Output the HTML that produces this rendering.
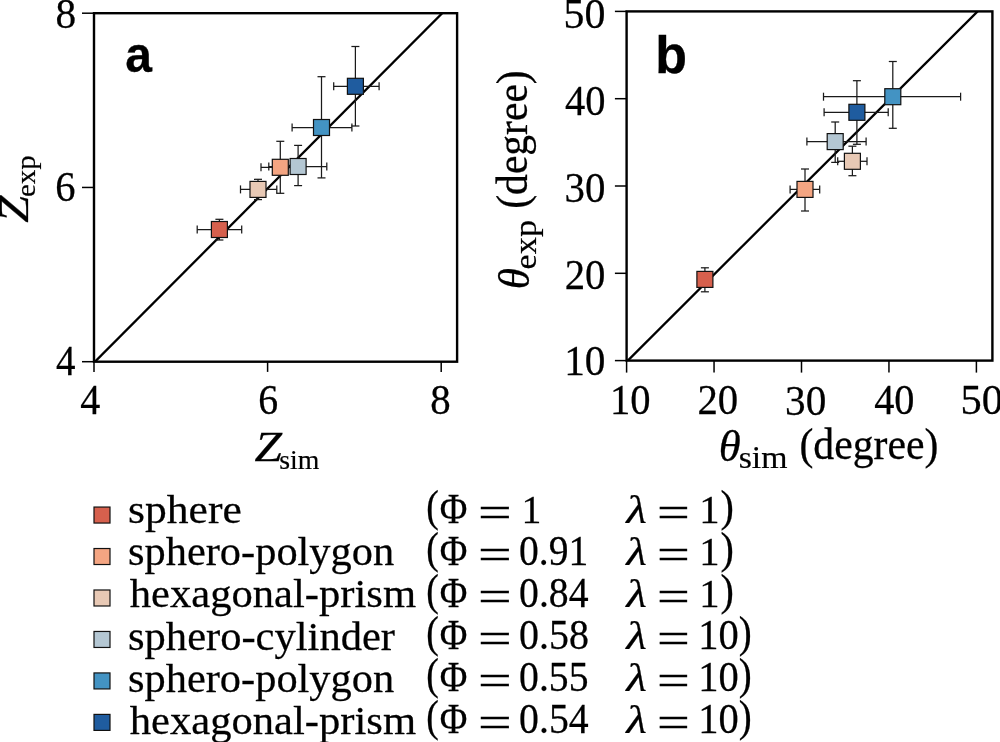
<!DOCTYPE html>
<html><head><meta charset="utf-8"><style>
html,body{margin:0;padding:0;background:#fff;width:1000px;height:742px;overflow:hidden}
svg{display:block;will-change:transform}
text{font-family:"Liberation Serif",serif;font-size:40px;font-kerning:none;fill:#000;stroke:#000;stroke-width:0.25px}
text.t{}
</style></head><body>
<svg width="1000" height="742" viewBox="0 0 1000 742">
<rect width="1000" height="742" fill="#fff"/>
<defs><clipPath id="ca"><rect x="94.00" y="13.20" width="363.10" height="348.50"/></clipPath><clipPath id="cb"><rect x="626.60" y="11.40" width="365.80" height="349.20"/></clipPath></defs>
<line x1="91.00" y1="365.70" x2="444.20" y2="11.20" stroke="#000" stroke-width="2.30" clip-path="url(#ca)"/>
<line x1="623.60" y1="364.80" x2="979.40" y2="9.60" stroke="#000" stroke-width="2.30" clip-path="url(#cb)"/>
<g stroke="#1a1a1a" stroke-width="1.25"><line x1="197.20" y1="229.50" x2="241.70" y2="229.50"/><line x1="197.20" y1="225.50" x2="197.20" y2="233.50"/><line x1="241.70" y1="225.50" x2="241.70" y2="233.50"/><line x1="219.40" y1="219.30" x2="219.40" y2="240.00"/><line x1="215.40" y1="219.30" x2="223.40" y2="219.30"/><line x1="215.40" y1="240.00" x2="223.40" y2="240.00"/><line x1="261.00" y1="167.30" x2="299.60" y2="167.30"/><line x1="261.00" y1="163.30" x2="261.00" y2="171.30"/><line x1="299.60" y1="163.30" x2="299.60" y2="171.30"/><line x1="280.30" y1="141.30" x2="280.30" y2="193.30"/><line x1="276.30" y1="141.30" x2="284.30" y2="141.30"/><line x1="276.30" y1="193.30" x2="284.30" y2="193.30"/><line x1="240.50" y1="189.40" x2="276.80" y2="189.40"/><line x1="240.50" y1="185.40" x2="240.50" y2="193.40"/><line x1="276.80" y1="185.40" x2="276.80" y2="193.40"/><line x1="258.00" y1="179.30" x2="258.00" y2="199.60"/><line x1="254.00" y1="179.30" x2="262.00" y2="179.30"/><line x1="254.00" y1="199.60" x2="262.00" y2="199.60"/><line x1="268.80" y1="166.50" x2="326.80" y2="166.50"/><line x1="268.80" y1="162.50" x2="268.80" y2="170.50"/><line x1="326.80" y1="162.50" x2="326.80" y2="170.50"/><line x1="298.10" y1="145.40" x2="298.10" y2="185.60"/><line x1="294.10" y1="145.40" x2="302.10" y2="145.40"/><line x1="294.10" y1="185.60" x2="302.10" y2="185.60"/><line x1="292.10" y1="127.50" x2="351.90" y2="127.50"/><line x1="292.10" y1="123.50" x2="292.10" y2="131.50"/><line x1="351.90" y1="123.50" x2="351.90" y2="131.50"/><line x1="321.50" y1="76.70" x2="321.50" y2="177.90"/><line x1="317.50" y1="76.70" x2="325.50" y2="76.70"/><line x1="317.50" y1="177.90" x2="325.50" y2="177.90"/><line x1="333.70" y1="86.30" x2="379.10" y2="86.30"/><line x1="333.70" y1="82.30" x2="333.70" y2="90.30"/><line x1="379.10" y1="82.30" x2="379.10" y2="90.30"/><line x1="355.40" y1="46.50" x2="355.40" y2="126.00"/><line x1="351.40" y1="46.50" x2="359.40" y2="46.50"/><line x1="351.40" y1="126.00" x2="359.40" y2="126.00"/><line x1="704.90" y1="267.80" x2="704.90" y2="291.80"/><line x1="700.90" y1="267.80" x2="708.90" y2="267.80"/><line x1="700.90" y1="291.80" x2="708.90" y2="291.80"/><line x1="790.10" y1="189.40" x2="819.70" y2="189.40"/><line x1="790.10" y1="185.40" x2="790.10" y2="193.40"/><line x1="819.70" y1="185.40" x2="819.70" y2="193.40"/><line x1="805.00" y1="169.00" x2="805.00" y2="211.00"/><line x1="801.00" y1="169.00" x2="809.00" y2="169.00"/><line x1="801.00" y1="211.00" x2="809.00" y2="211.00"/><line x1="837.70" y1="161.30" x2="867.00" y2="161.30"/><line x1="837.70" y1="157.30" x2="837.70" y2="165.30"/><line x1="867.00" y1="157.30" x2="867.00" y2="165.30"/><line x1="852.40" y1="146.20" x2="852.40" y2="175.70"/><line x1="848.40" y1="146.20" x2="856.40" y2="146.20"/><line x1="848.40" y1="175.70" x2="856.40" y2="175.70"/><line x1="806.90" y1="141.60" x2="866.10" y2="141.60"/><line x1="806.90" y1="137.60" x2="806.90" y2="145.60"/><line x1="866.10" y1="137.60" x2="866.10" y2="145.60"/><line x1="835.20" y1="122.00" x2="835.20" y2="162.40"/><line x1="831.20" y1="122.00" x2="839.20" y2="122.00"/><line x1="831.20" y1="162.40" x2="839.20" y2="162.40"/><line x1="823.50" y1="96.70" x2="960.60" y2="96.70"/><line x1="823.50" y1="92.70" x2="823.50" y2="100.70"/><line x1="960.60" y1="92.70" x2="960.60" y2="100.70"/><line x1="892.80" y1="61.50" x2="892.80" y2="128.30"/><line x1="888.80" y1="61.50" x2="896.80" y2="61.50"/><line x1="888.80" y1="128.30" x2="896.80" y2="128.30"/><line x1="824.10" y1="112.30" x2="888.20" y2="112.30"/><line x1="824.10" y1="108.30" x2="824.10" y2="116.30"/><line x1="888.20" y1="108.30" x2="888.20" y2="116.30"/><line x1="856.90" y1="80.70" x2="856.90" y2="144.30"/><line x1="852.90" y1="80.70" x2="860.90" y2="80.70"/><line x1="852.90" y1="144.30" x2="860.90" y2="144.30"/></g>
<g stroke="#111" stroke-width="1.20"><rect x="211.40" y="221.50" width="16.00" height="16.00" fill="#d6604d"/><rect x="272.30" y="159.30" width="16.00" height="16.00" fill="#f4a582"/><rect x="250.00" y="181.40" width="16.00" height="16.00" fill="#e8c9b5"/><rect x="290.10" y="158.50" width="16.00" height="16.00" fill="#b4c7d3"/><rect x="313.50" y="119.50" width="16.00" height="16.00" fill="#4393c3"/><rect x="347.40" y="78.30" width="16.00" height="16.00" fill="#1f5c9f"/><rect x="696.90" y="271.40" width="16.00" height="16.00" fill="#d6604d"/><rect x="797.00" y="181.40" width="16.00" height="16.00" fill="#f4a582"/><rect x="844.40" y="153.30" width="16.00" height="16.00" fill="#e8c9b5"/><rect x="827.20" y="133.60" width="16.00" height="16.00" fill="#b4c7d3"/><rect x="884.80" y="88.70" width="16.00" height="16.00" fill="#4393c3"/><rect x="848.90" y="104.30" width="16.00" height="16.00" fill="#1f5c9f"/><rect x="94.00" y="507.05" width="16.00" height="16.00" fill="#d6604d"/><rect x="94.00" y="548.52" width="16.00" height="16.00" fill="#f4a582"/><rect x="94.00" y="589.99" width="16.00" height="16.00" fill="#e8c9b5"/><rect x="94.00" y="631.46" width="16.00" height="16.00" fill="#b4c7d3"/><rect x="94.00" y="672.93" width="16.00" height="16.00" fill="#4393c3"/><rect x="94.00" y="714.40" width="16.00" height="16.00" fill="#1f5c9f"/></g>
<rect x="94.00" y="13.20" width="363.10" height="348.50" fill="none" stroke="#000" stroke-width="2.40"/>
<rect x="626.60" y="11.40" width="365.80" height="349.20" fill="none" stroke="#000" stroke-width="2.40"/>
<g stroke="#000" stroke-width="1.50"><line x1="94.00" y1="361.70" x2="94.00" y2="371.90"/><line x1="82.00" y1="361.70" x2="94.00" y2="361.70"/><line x1="267.60" y1="361.70" x2="267.60" y2="371.90"/><line x1="82.00" y1="187.45" x2="94.00" y2="187.45"/><line x1="441.20" y1="361.70" x2="441.20" y2="371.90"/><line x1="82.00" y1="13.20" x2="94.00" y2="13.20"/><line x1="626.60" y1="360.60" x2="626.60" y2="372.60"/><line x1="614.90" y1="360.60" x2="626.60" y2="360.60"/><line x1="714.05" y1="360.60" x2="714.05" y2="372.60"/><line x1="614.90" y1="273.30" x2="626.60" y2="273.30"/><line x1="801.50" y1="360.60" x2="801.50" y2="372.60"/><line x1="614.90" y1="186.00" x2="626.60" y2="186.00"/><line x1="888.95" y1="360.60" x2="888.95" y2="372.60"/><line x1="614.90" y1="98.70" x2="626.60" y2="98.70"/><line x1="976.40" y1="360.60" x2="976.40" y2="372.60"/><line x1="614.90" y1="11.40" x2="626.60" y2="11.40"/></g>
<g>
<text transform="matrix(1.0901 0 0 1.0161 128.01 523.00)" class="t">sphere</text>
<text transform="matrix(0.9442 0 0 1.1235 426.29 521.23)">(</text>
<text transform="matrix(0.9435 0 0 1.0652 439.76 522.90)">Φ</text>
<text transform="matrix(1.4962 0 0 1.0300 478.12 526.23)">=</text>
<text transform="matrix(0.9942 0 0 1.0263 521.60 522.90)">1</text>
<text transform="matrix(1.1904 0 0 0.9977 626.26 522.90)" style="font-style:italic">λ</text>
<text transform="matrix(1.4559 0 0 1.0300 657.00 526.23)">=</text>
<text transform="matrix(1.0155 0 0 1.0263 699.23 522.90)">1</text>
<text transform="matrix(1.0026 0 0 1.1235 720.51 521.23)">)</text>
<text transform="matrix(1.0602 0 0 1.0161 128.06 565.19)" class="t">sphero-polygon</text>
<text transform="matrix(0.9442 0 0 1.1235 426.29 563.21)">(</text>
<text transform="matrix(0.9435 0 0 1.0652 439.76 564.88)">Φ</text>
<text transform="matrix(1.4962 0 0 1.0300 478.12 568.21)">=</text>
<text transform="matrix(0.9898 0 0 1.0488 519.09 564.88)">0.91</text>
<text transform="matrix(1.1904 0 0 0.9977 626.26 564.88)" style="font-style:italic">λ</text>
<text transform="matrix(1.4559 0 0 1.0300 657.00 568.21)">=</text>
<text transform="matrix(1.0155 0 0 1.0263 699.23 564.88)">1</text>
<text transform="matrix(1.0026 0 0 1.1235 720.51 563.21)">)</text>
<text transform="matrix(1.0657 0 0 1.0161 129.78 607.38)" class="t">hexagonal-prism</text>
<text transform="matrix(0.9442 0 0 1.1235 426.29 605.19)">(</text>
<text transform="matrix(0.9435 0 0 1.0652 439.76 606.86)">Φ</text>
<text transform="matrix(1.4962 0 0 1.0300 478.12 610.19)">=</text>
<text transform="matrix(0.9919 0 0 1.0488 519.09 606.86)">0.84</text>
<text transform="matrix(1.1904 0 0 0.9977 626.26 606.86)" style="font-style:italic">λ</text>
<text transform="matrix(1.4559 0 0 1.0300 657.00 610.19)">=</text>
<text transform="matrix(1.0155 0 0 1.0263 699.23 606.86)">1</text>
<text transform="matrix(1.0026 0 0 1.1235 720.51 605.19)">)</text>
<text transform="matrix(1.0634 0 0 1.0161 128.06 649.57)" class="t">sphero-cylinder</text>
<text transform="matrix(0.9442 0 0 1.1235 426.29 647.17)">(</text>
<text transform="matrix(0.9435 0 0 1.0652 439.76 648.84)">Φ</text>
<text transform="matrix(1.4962 0 0 1.0300 478.12 652.17)">=</text>
<text transform="matrix(0.9977 0 0 1.0488 519.08 648.84)">0.58</text>
<text transform="matrix(1.1904 0 0 0.9977 626.26 648.84)" style="font-style:italic">λ</text>
<text transform="matrix(1.4559 0 0 1.0300 657.00 652.17)">=</text>
<text transform="matrix(1.0126 0 0 1.0488 698.24 648.84)">10</text>
<text transform="matrix(0.9734 0 0 1.1235 738.65 647.17)">)</text>
<text transform="matrix(1.0602 0 0 1.0161 128.06 691.76)" class="t">sphero-polygon</text>
<text transform="matrix(0.9442 0 0 1.1235 426.29 689.15)">(</text>
<text transform="matrix(0.9435 0 0 1.0652 439.76 690.82)">Φ</text>
<text transform="matrix(1.4962 0 0 1.0300 478.12 694.15)">=</text>
<text transform="matrix(0.9923 0 0 1.0488 519.09 690.82)">0.55</text>
<text transform="matrix(1.1904 0 0 0.9977 626.26 690.82)" style="font-style:italic">λ</text>
<text transform="matrix(1.4559 0 0 1.0300 657.00 694.15)">=</text>
<text transform="matrix(1.0126 0 0 1.0488 698.24 690.82)">10</text>
<text transform="matrix(0.9734 0 0 1.1235 738.65 689.15)">)</text>
<text transform="matrix(1.0657 0 0 1.0161 129.78 733.95)" class="t">hexagonal-prism</text>
<text transform="matrix(0.9442 0 0 1.1235 426.29 731.13)">(</text>
<text transform="matrix(0.9435 0 0 1.0652 439.76 732.80)">Φ</text>
<text transform="matrix(1.4962 0 0 1.0300 478.12 736.13)">=</text>
<text transform="matrix(0.9933 0 0 1.0488 519.09 732.80)">0.54</text>
<text transform="matrix(1.1904 0 0 0.9977 626.26 732.80)" style="font-style:italic">λ</text>
<text transform="matrix(1.4559 0 0 1.0300 657.00 736.13)">=</text>
<text transform="matrix(1.0126 0 0 1.0488 698.24 732.80)">10</text>
<text transform="matrix(0.9734 0 0 1.1235 738.65 731.13)">)</text>
<text transform="matrix(1.0323 0 0 1.0559 55.43 27.59)">8</text>
<text transform="matrix(1.0123 0 0 1.0456 55.26 201.29)">6</text>
<text transform="matrix(0.9734 0 0 1.0597 56.04 374.90)">4</text>
<text transform="matrix(1.0003 0 0 1.0597 80.32 414.00)">4</text>
<text transform="matrix(0.9947 0 0 1.0493 258.29 414.49)">6</text>
<text transform="matrix(1.0205 0 0 1.0373 430.25 414.19)">8</text>
<text transform="matrix(1.2359 0 0 1.0652 254.40 460.60)" style="font-style:italic">Z</text>
<text transform="matrix(0.6952 0 0 0.6872 279.26 468.80)" class="t">sim</text>
<g transform="translate(0 222.10) rotate(-90)"><text transform="matrix(1.2132 0 0 1.0652 -0.59 28.30)" style="font-style:italic">Z</text></g>
<g transform="translate(0 195.90) rotate(-90)"><text transform="matrix(0.7249 0 0 0.6688 -1.13 35.30)" class="t">exp</text></g>
<text transform="matrix(1.2003 0 0 1.2640 125.19 72.21)" style="font-family:'Liberation Sans',sans-serif;font-weight:bold">a</text>
<text transform="matrix(1.2998 0 0 1.2919 655.37 72.50)" style="font-family:'Liberation Sans',sans-serif;font-weight:bold">b</text>
<text transform="matrix(1.0483 0 0 1.0447 563.56 27.59)">50</text>
<text transform="matrix(1.0134 0 0 1.0522 564.91 114.89)">40</text>
<text transform="matrix(1.0229 0 0 1.0373 564.54 201.79)">30</text>
<text transform="matrix(1.0186 0 0 1.0392 564.71 288.64)">20</text>
<text transform="matrix(1.0326 0 0 1.0373 564.17 375.49)">10</text>
<text transform="matrix(1.0154 0 0 1.0373 609.93 414.49)">10</text>
<text transform="matrix(1.0186 0 0 1.0373 697.41 414.49)">20</text>
<text transform="matrix(1.0311 0 0 1.0373 785.03 414.59)">30</text>
<text transform="matrix(1.0081 0 0 1.0299 874.21 414.10)">40</text>
<text transform="matrix(1.0622 0 0 1.0392 960.53 414.34)">50</text>
<text transform="matrix(1.1189 0 0 1.1160 718.81 461.46)" style="font-style:italic" class="t">θ</text>
<text transform="matrix(0.8446 0 0 0.8156 738.71 468.35)" class="t">sim</text>
<text transform="matrix(1.0431 0 0 1.1240 799.47 459.20)" class="t">(degree)</text>
<g transform="translate(0 287.10) rotate(-90)"><text transform="matrix(1.0801 0 0 1.1037 -2.11 529.27)" style="font-style:italic" class="t">θ</text></g>
<g transform="translate(0 268.10) rotate(-90)"><text transform="matrix(0.8567 0 0 0.7894 -1.34 535.98)" class="t">exp</text></g>
<g transform="translate(0 206.90) rotate(-90)"><text transform="matrix(1.0393 0 0 1.1240 -1.83 527.10)" class="t">(degree)</text></g>
</g>
</svg>
</body></html>
